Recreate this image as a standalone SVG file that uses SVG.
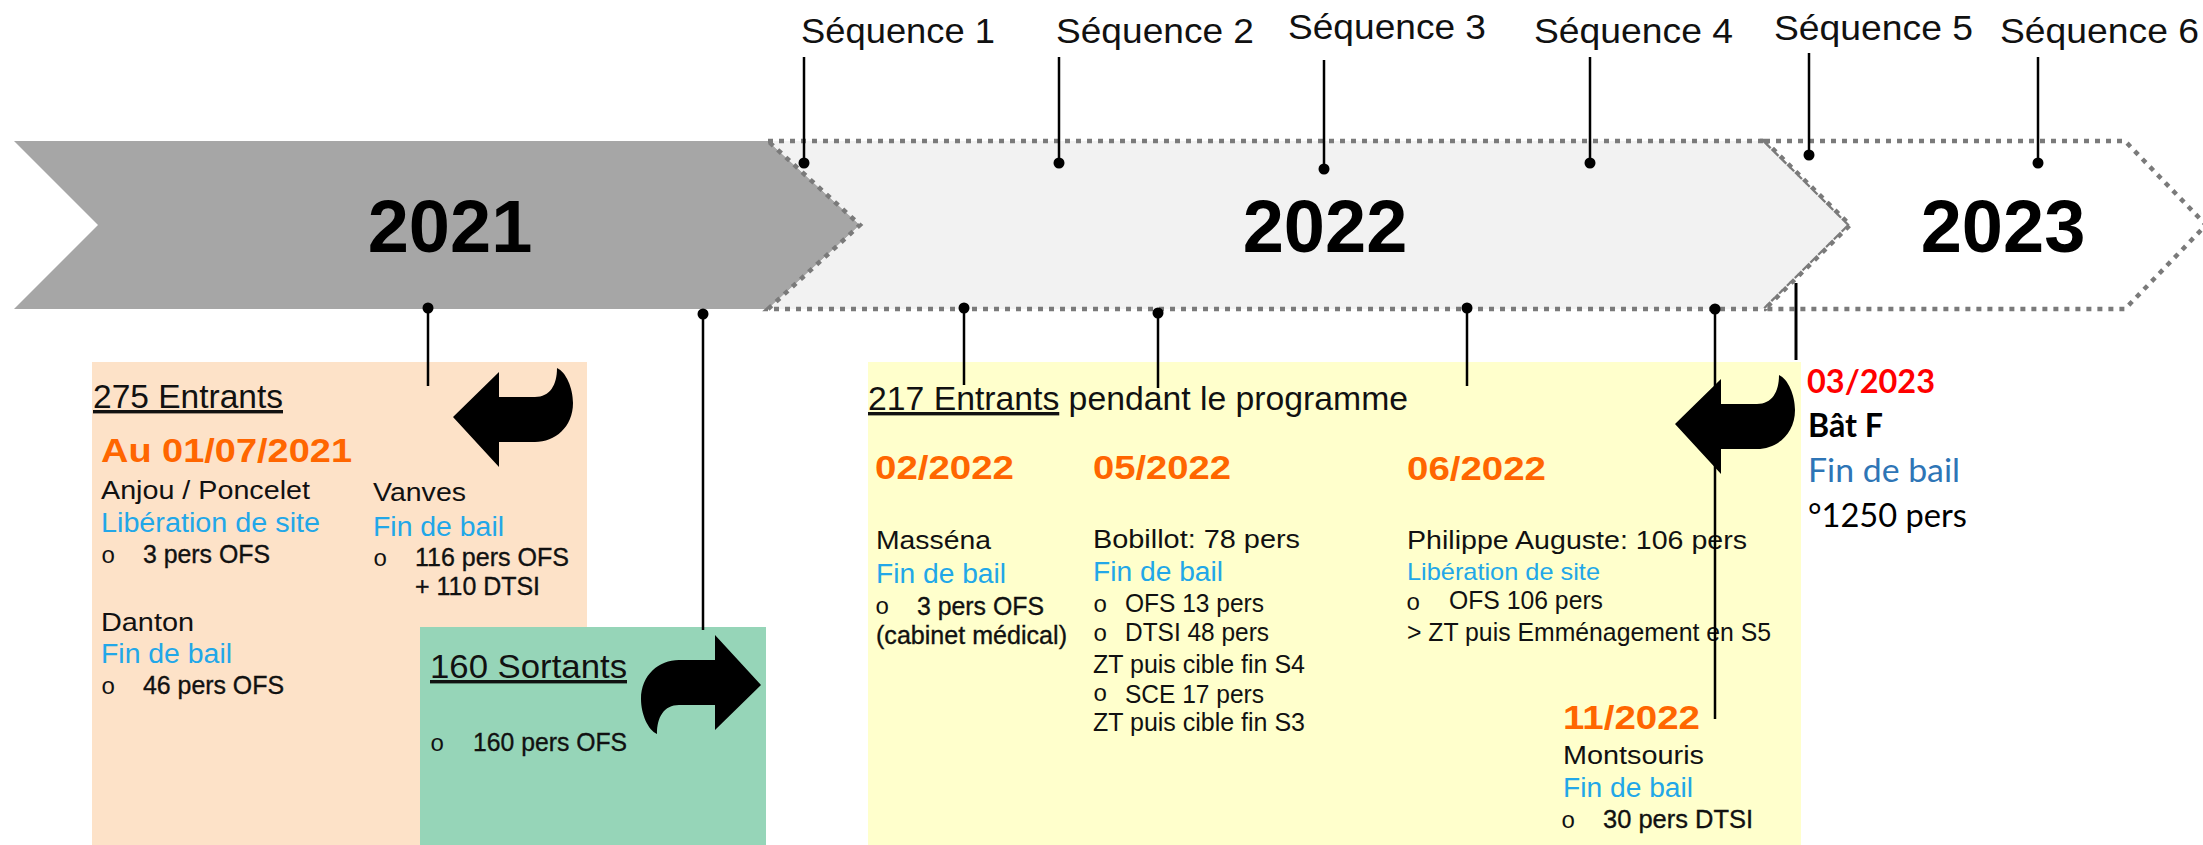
<svg xmlns="http://www.w3.org/2000/svg" xmlns:xlink="http://www.w3.org/1999/xlink" width="2203" height="845" viewBox="0 0 2203 845">
<style>
text{font-family:"Liberation Sans",Arial,Helvetica,sans-serif;fill:#111}
.seq{font-size:35px}
.yr{font-size:74px;font-weight:bold;fill:#000;text-anchor:middle}
.hd{font-size:34px}
.dt{font-size:34px;font-weight:bold;fill:#ff6600}
.n{font-size:26px}
.bl{font-size:27px;fill:#22a7e8}
.m{font-size:25px;stroke:#111;stroke-width:0.35}
.bul{font-family:"Liberation Mono","Courier New",monospace;font-size:24px;fill:#111}
.c{font-family:Lato,"Open Sans",sans-serif;font-size:32px;fill:#000}
.dash{stroke:#7a7a7a;stroke-width:4.5;stroke-dasharray:5 6}
.ln{stroke:#000;stroke-width:2.5;fill:none}
.dot{fill:#000}
</style>
<defs>
<path id="uturn" d="M453,417 L499,372 L499,397 L535,397 C550,397 557,385 557,368 C566,372 573,388 573,403 C573,427 555,442 535,442 L499,442 L499,467 Z" fill="#000"/>
</defs>
<rect width="2203" height="845" fill="#fff"/>

<g id="year-2021">
<path d="M14,141 L768,141 L860,225 L768,309 L14,309 L98,225 Z" fill="#a6a6a6"/>
<text class="yr" x="450" y="252">2021</text>
</g>
<g id="year-2022">
<path class="dash" d="M768,141 L1765,141 L1850,225 L1765,309 L768,309 L860,225 Z" fill="#f2f2f2"/>
<text class="yr" x="1325" y="252">2022</text>
</g>
<g id="year-2023">
<path class="dash" d="M1765,141 L2125,141 L2206,225 L2125,309 L1765,309 L1850,225 Z" fill="#fff"/>
<text class="yr" x="2003" y="252">2023</text>
</g>

<g id="sequences">
<text class="seq" x="801" y="43" textLength="194" lengthAdjust="spacingAndGlyphs">Séquence 1</text>
<text class="seq" x="1056" y="43" textLength="198" lengthAdjust="spacingAndGlyphs">Séquence 2</text>
<text class="seq" x="1288" y="39" textLength="198" lengthAdjust="spacingAndGlyphs">Séquence 3</text>
<text class="seq" x="1534" y="43" textLength="199" lengthAdjust="spacingAndGlyphs">Séquence 4</text>
<text class="seq" x="1774" y="40" textLength="199" lengthAdjust="spacingAndGlyphs">Séquence 5</text>
<text class="seq" x="2000" y="43" textLength="199" lengthAdjust="spacingAndGlyphs">Séquence 6</text>
</g>

<g id="entrants-2021">
<rect x="92" y="362" width="495" height="483" fill="#fde2c8"/>
<text class="hd" x="93" y="408" textLength="190" lengthAdjust="spacingAndGlyphs" text-decoration="underline">275 Entrants</text>
<text class="dt" x="101" y="462" textLength="251" lengthAdjust="spacingAndGlyphs">Au 01/07/2021</text>
<text class="n" x="101" y="499" textLength="209" lengthAdjust="spacingAndGlyphs">Anjou / Poncelet</text>
<text class="bl" x="101" y="532" textLength="219" lengthAdjust="spacingAndGlyphs">Libération de site</text>
<text class="bul" x="101" y="563">o</text>
<text class="m" x="143" y="563" textLength="127" lengthAdjust="spacingAndGlyphs">3 pers OFS</text>
<text class="n" x="101" y="631" textLength="93" lengthAdjust="spacingAndGlyphs">Danton</text>
<text class="bl" x="101" y="663" textLength="131" lengthAdjust="spacingAndGlyphs">Fin de bail</text>
<text class="bul" x="101" y="694">o</text>
<text class="m" x="143" y="694" textLength="141" lengthAdjust="spacingAndGlyphs">46 pers OFS</text>
<text class="n" x="373" y="501" textLength="93" lengthAdjust="spacingAndGlyphs">Vanves</text>
<text class="bl" x="373" y="536" textLength="131" lengthAdjust="spacingAndGlyphs">Fin de bail</text>
<text class="bul" x="373" y="566">o</text>
<text class="m" x="415" y="566" textLength="154" lengthAdjust="spacingAndGlyphs">116 pers OFS</text>
<text class="m" x="415" y="595" textLength="125" lengthAdjust="spacingAndGlyphs">+ 110 DTSI</text>
<use href="#uturn" xlink:href="#uturn"/>
</g>

<g id="sortants-2021">
<rect x="420" y="627" width="346" height="218" fill="#96d5b8"/>
<text class="hd" x="430" y="678" textLength="197" lengthAdjust="spacingAndGlyphs" text-decoration="underline">160 Sortants</text>
<text class="bul" x="430" y="751">o</text>
<text class="m" x="473" y="751" textLength="154" lengthAdjust="spacingAndGlyphs">160 pers OFS</text>
<use href="#uturn" xlink:href="#uturn" transform="matrix(-1 0 0 -1 1214 1102)"/>
</g>

<g id="entrants-2022">
<rect x="868" y="362" width="933" height="483" fill="#ffffcc"/>
<text class="hd" x="868" y="410" textLength="540" lengthAdjust="spacingAndGlyphs"><tspan text-decoration="underline">217 Entrants</tspan> pendant le programme</text>
<text class="dt" x="875" y="479" textLength="139" lengthAdjust="spacingAndGlyphs">02/2022</text>
<text class="n" x="876" y="549" textLength="115" lengthAdjust="spacingAndGlyphs">Masséna</text>
<text class="bl" x="876" y="583" textLength="130" lengthAdjust="spacingAndGlyphs">Fin de bail</text>
<text class="bul" x="875" y="614">o</text>
<text class="m" x="917" y="615" textLength="127" lengthAdjust="spacingAndGlyphs">3 pers OFS</text>
<text class="m" x="876" y="644" textLength="191" lengthAdjust="spacingAndGlyphs">(cabinet médical)</text>

<text class="dt" x="1093" y="479" textLength="138" lengthAdjust="spacingAndGlyphs">05/2022</text>
<text class="n" x="1093" y="548" textLength="207" lengthAdjust="spacingAndGlyphs">Bobillot: 78 pers</text>
<text class="bl" x="1093" y="581" textLength="130" lengthAdjust="spacingAndGlyphs">Fin de bail</text>
<text class="bul" x="1093" y="612">o</text>
<text class="n" x="1125" y="612" textLength="139" lengthAdjust="spacingAndGlyphs">OFS 13 pers</text>
<text class="bul" x="1093" y="641">o</text>
<text class="n" x="1125" y="641" textLength="144" lengthAdjust="spacingAndGlyphs">DTSI 48 pers</text>
<text class="n" x="1093" y="673" textLength="212" lengthAdjust="spacingAndGlyphs">ZT puis cible fin S4</text>
<text class="bul" x="1093" y="701">o</text>
<text class="n" x="1125" y="703" textLength="139" lengthAdjust="spacingAndGlyphs">SCE 17 pers</text>
<text class="n" x="1093" y="731" textLength="212" lengthAdjust="spacingAndGlyphs">ZT puis cible fin S3</text>

<text class="dt" x="1407" y="480" textLength="139" lengthAdjust="spacingAndGlyphs">06/2022</text>
<text class="n" x="1407" y="549" textLength="340" lengthAdjust="spacingAndGlyphs">Philippe Auguste: 106 pers</text>
<text class="bl" x="1407" y="580" style="font-size:24px" textLength="193" lengthAdjust="spacingAndGlyphs">Libération de site</text>
<text class="bul" x="1406" y="610">o</text>
<text class="n" x="1449" y="609" textLength="154" lengthAdjust="spacingAndGlyphs">OFS 106 pers</text>
<text class="n" x="1407" y="641" textLength="364" lengthAdjust="spacingAndGlyphs">&gt; ZT puis Emménagement  en S5</text>

<text class="dt" x="1563" y="729" textLength="137" lengthAdjust="spacingAndGlyphs">11/2022</text>
<text class="n" x="1563" y="764" textLength="141" lengthAdjust="spacingAndGlyphs">Montsouris</text>
<text class="bl" x="1563" y="797" textLength="130" lengthAdjust="spacingAndGlyphs">Fin de bail</text>
<text class="bul" x="1561" y="828">o</text>
<text class="m" x="1603" y="828" textLength="150" lengthAdjust="spacingAndGlyphs">30 pers  DTSI</text>
<use href="#uturn" xlink:href="#uturn" transform="translate(1222 7)"/>
</g>

<g id="batF-2023">
<text class="c" x="1807" y="393" style="font-weight:bold;fill:#ff0000" textLength="128" lengthAdjust="spacingAndGlyphs">03/2023</text>
<text class="c" x="1808" y="437" style="font-weight:bold" textLength="75" lengthAdjust="spacingAndGlyphs">Bât F</text>
<text class="c" x="1808" y="482" style="fill:#2e75b6" textLength="152" lengthAdjust="spacingAndGlyphs">Fin de bail</text>
<text class="c" x="1808" y="527" textLength="159" lengthAdjust="spacingAndGlyphs">°1250 pers</text>
</g>

<g id="connectors">
<line class="ln" x1="804" y1="57" x2="804" y2="163"/><circle class="dot" cx="804" cy="163" r="5.5"/>
<line class="ln" x1="1059" y1="57" x2="1059" y2="163"/><circle class="dot" cx="1059" cy="163" r="5.5"/>
<line class="ln" x1="1324" y1="60" x2="1324" y2="169"/><circle class="dot" cx="1324" cy="169" r="5.5"/>
<line class="ln" x1="1590" y1="57" x2="1590" y2="163"/><circle class="dot" cx="1590" cy="163" r="5.5"/>
<line class="ln" x1="1809" y1="53" x2="1809" y2="155"/><circle class="dot" cx="1809" cy="155" r="5.5"/>
<line class="ln" x1="2038" y1="57" x2="2038" y2="163"/><circle class="dot" cx="2038" cy="163" r="5.5"/>

<line class="ln" x1="428" y1="308" x2="428" y2="386"/><circle class="dot" cx="428" cy="308" r="5.5"/>
<line class="ln" x1="703" y1="314" x2="703" y2="630"/><circle class="dot" cx="703" cy="314" r="5.5"/>
<line class="ln" x1="964" y1="308" x2="964" y2="385"/><circle class="dot" cx="964" cy="308" r="5.5"/>
<line class="ln" x1="1158" y1="313" x2="1158" y2="388"/><circle class="dot" cx="1158" cy="313" r="5.5"/>
<line class="ln" x1="1467" y1="308" x2="1467" y2="386"/><circle class="dot" cx="1467" cy="308" r="5.5"/>
<line class="ln" x1="1715" y1="309" x2="1715" y2="719"/><circle class="dot" cx="1715" cy="309" r="5.5"/>
<line class="ln" x1="1796" y1="283" x2="1796" y2="360" style="stroke-width:3"/>
</g>
</svg>
